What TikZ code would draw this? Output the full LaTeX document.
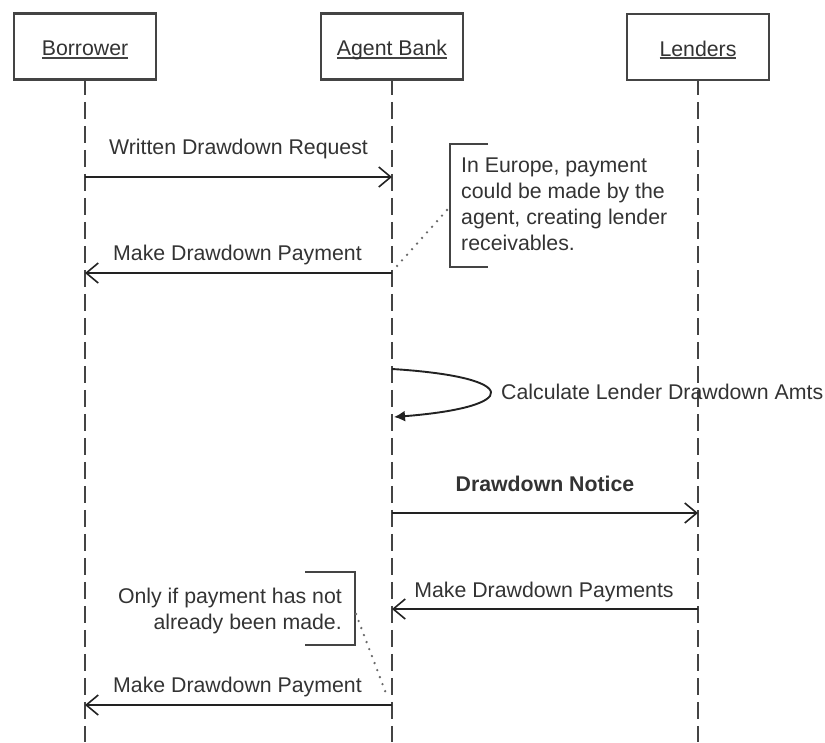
\documentclass[tikz,border=0pt]{standalone}
\usepackage{fontspec}
\setmainfont{Liberation Sans}
\usetikzlibrary{arrows.meta}
\definecolor{ink}{HTML}{333333}
\definecolor{frame}{HTML}{444444}
\definecolor{wire}{HTML}{222222}
\definecolor{dots}{HTML}{6a6a6a}
% underlined actor name, rule kept at a fixed depth below the baseline
\newcommand\ulword[1]{\setbox0\hbox{#1}\rlap{\color{frame}\rule[-3pt]{\wd0}{1.8pt}}\box0}

\begin{document}
\begin{tikzpicture}[x=1pt,y=-1pt,
  font=\fontsize{21.3}{25.7}\selectfont,
  actor/.style={draw=frame,line width=2.5pt,fill=white,minimum width=142pt,
    minimum height=66pt,inner sep=0pt,text=ink,text height=18pt,text depth=0pt},
  lifeline/.style={draw=frame,line width=2pt,dash pattern=on 17pt off 7pt,dash phase=3pt},
  msg/.style={draw=wire,line width=1.9pt,
    -{Straight Barb[length=12pt,width=20pt,line width=1.6pt]}},
  selfmsg/.style={draw=wire,line width=1.9pt,-{Latex[length=11pt,width=11pt]}},
  lbl/.style={text=ink,inner sep=0pt},
  notebr/.style={draw=frame,line width=2.2pt},
  link/.style={draw=dots,line width=2.6pt,line cap=round,dash pattern=on 0pt off 7.5pt}
]
\useasboundingbox (0,0) rectangle (825,742);

% actors
\node[actor] (bor) at (85,46.5)  {\ulword{Borrower}};
\node[actor] (agt) at (392,46.5) {\ulword{Agent Bank}};
\node[actor] (len) at (698,47)   {\ulword{Lenders}};

% lifelines
\coordinate (bor-end) at (85,742);
\coordinate (agt-end) at (392,742);
\coordinate (len-end) at (698,742);
\draw[lifeline] (bor.south) -- (bor-end);
\draw[lifeline] (agt.south) -- (agt-end);
\draw[lifeline] (len.south) -- (len-end);

% message anchors on the lifelines
\coordinate (b1) at (85,177);  \coordinate (a1) at (392,177);
\coordinate (b2) at (85,273);  \coordinate (a2) at (392,273);
\coordinate (s0) at (392,369); \coordinate (s1) at (394,417);
\coordinate (a4) at (392,513); \coordinate (l4) at (698,513);
\coordinate (a5) at (392,609); \coordinate (l5) at (698,609);
\coordinate (b6) at (85,705);  \coordinate (a6) at (392,705);

% messages
\draw[msg] (b1) -- (a1);
\node[lbl,anchor=base] (t1) at (238.5,154) {Written Drawdown Request};

\draw[msg] (a2) -- (b2);
\node[lbl,anchor=base] (t2) at (237.5,260) {Make Drawdown Payment};

\draw[selfmsg] (s0) .. controls (522,377) and (522,407) .. (s1);
\node[lbl,anchor=base west] (t3) at (501,399) {Calculate Lender Drawdown Amts};

\draw[msg] (a4) -- (l4);
\node[lbl,anchor=base,font=\fontsize{21.3}{25.7}\selectfont\bfseries] (t4) at (545,491) {Drawdown Notice};

\draw[msg] (l5) -- (a5);
\node[lbl,anchor=base] (t5) at (544,597) {Make Drawdown Payments};

\draw[msg] (a6) -- (b6);
\node[lbl,anchor=base] (t6) at (237.5,692) {Make Drawdown Payment};

% note on the first payment (base anchor sits on the last line)
\node[lbl,anchor=base west,align=left] (n1) at (461,250)
  {In Europe, payment\\could be made by the\\agent, creating lender\\receivables.};
\draw[notebr] (488,144) -- (450,144) -- (450,267) -- (488,267);
\coordinate (n1p) at (447,210);
\coordinate (n1q) at (397,266);
\draw[link] (n1p) -- (n1q);

% note on the final payment
\node[lbl,anchor=base east,align=right] (n2) at (342,629)
  {Only if payment has not\\already been made.};
\draw[notebr] (305,572) -- (355,572) -- (355,645) -- (305,645);
\coordinate (n2p) at (356,614);
\coordinate (n2q) at (387,696);
\draw[link] (n2p) -- (n2q);
\end{tikzpicture}
\end{document}
